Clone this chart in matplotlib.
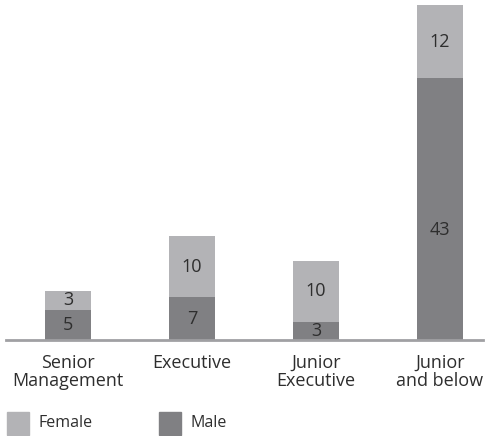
import matplotlib
matplotlib.use("Agg")
import matplotlib.pyplot as plt
from matplotlib.patches import Rectangle

categories = ["Senior\nManagement", "Executive", "Junior\nExecutive", "Junior\nand below"]
male = [5, 7, 3, 43]
female = [3, 10, 10, 12]
male_label_frac = [0.5, 0.5, 0.5, 0.42]
female_label_frac = [0.5, 0.5, 0.5, 0.5]

female_color = "#b3b3b6"
male_color = "#808083"
text_color = "#2e2e2e"

plt.rcParams['font.family'] = ['Open Sans', 'DejaVu Sans']

W, H = 486, 436
fig = plt.figure(figsize=(W / 100, H / 100), dpi=100)
ax = fig.add_axes([6 / W, 96 / H, (483 - 6) / W, (431 - 96) / H])

x = list(range(len(categories)))
bw = 0.371
ax.bar(x, male, width=bw, color=male_color, zorder=2)
ax.bar(x, female, width=bw, bottom=male, color=female_color, zorder=2)

fs = 13
for i in x:
    ax.text(i, male[i] * male_label_frac[i], str(male[i]), ha="center", va="center",
            fontsize=fs, color=text_color, zorder=3)
    ax.text(i, male[i] + female[i] * female_label_frac[i], str(female[i]), ha="center",
            va="center", fontsize=fs, color=text_color, zorder=3)

ax.set_xlim(-0.5, 3 + 43 / 124)
ax.set_ylim(0, 55)
for s in ["top", "right", "left"]:
    ax.spines[s].set_visible(False)
ax.spines["bottom"].set_color("#a0a0a3")
ax.spines["bottom"].set_linewidth(2)
ax.set_yticks([])
ax.set_xticks(x)
ax.set_xticklabels(categories, fontsize=fs, color=text_color, linespacing=1.0)
ax.tick_params(axis="x", length=0, pad=10)

# legend
for (lx, label, col) in [(7, "Female", female_color), (159, "Male", male_color)]:
    fig.add_artist(Rectangle((lx / W, (H - 435) / H), 22 / W, 23 / H,
                             transform=fig.transFigure, color=col))
    fig.text((lx + 31) / W, (H - 423) / H, label, fontsize=11.5, color=text_color,
             va="center", ha="left")

fig.savefig("out.png", dpi=100)
